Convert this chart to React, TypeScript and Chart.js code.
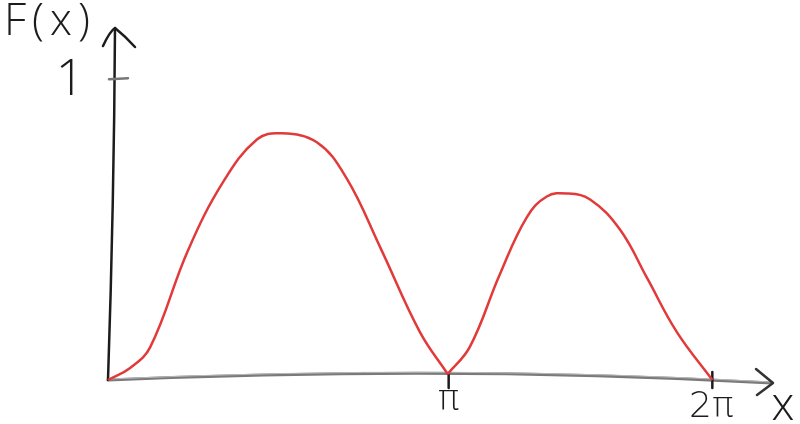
import React, { useEffect, useRef } from 'react';
import { Chart, registerables } from 'chart.js';

Chart.register(...registerables);

// curve (x in sketch units, the 2π tick sits at 6.28)
// first hump: origin -> π
const hump1X = [0, 0.23, 0.44, 0.83, 1.2, 1.55, 1.79, 2.17, 2.48, 2.83, 3.24, 3.53];
const hump1Y = [0, 0.04, 0.11, 0.43, 0.66, 0.8, 0.82, 0.79, 0.67, 0.44, 0.16, 0.02];
// second hump: π -> 2π
const hump2X = [3.53, 3.76, 4.07, 4.35, 4.56, 4.77, 5.01, 5.32, 5.6, 5.91, 6.28];
const hump2Y = [0.02, 0.11, 0.35, 0.54, 0.61, 0.62, 0.6, 0.5, 0.34, 0.16, 0];

const xTickValues = [3.54, 6.28];
const xTickLabels = ['π', '2π'];
const yTickValues = [1];
const yTickLabels = ['1'];

const xTitle = 'x';
const yTitle = 'F(x)';

const X_MAX = 6.9;
const Y_MAX = 1.17;

const INK = '#1c1c1c';
const RED = '#e23a3a';
const FONT = '"Open Sans", "DejaVu Sans", sans-serif';

const sketchAxes = {
  id: 'sketchAxes',
  beforeDatasetsDraw(chart: Chart) {
    const { ctx } = chart;
    const x = chart.scales.x;
    const y = chart.scales.y;
    const ox = x.getPixelForValue(0);
    const oy = y.getPixelForValue(0);
    const xEnd = x.getPixelForValue(X_MAX);
    const yTop = y.getPixelForValue(Y_MAX);
    ctx.save();
    ctx.lineCap = 'round';
    ctx.lineJoin = 'round';

    // x axis (slightly bowed, grey)
    const cx = x.getPixelForValue(3.6);
    const cy = y.getPixelForValue(0.05);
    ctx.strokeStyle = '#7a7a7a';
    ctx.lineWidth = 3;
    ctx.beginPath();
    ctx.moveTo(ox, oy);
    ctx.quadraticCurveTo(cx, cy, xEnd, oy + 3);
    ctx.stroke();
    ctx.strokeStyle = '#b8b8b8';
    ctx.lineWidth = 1;
    ctx.beginPath();
    ctx.moveTo(ox, oy - 1);
    ctx.quadraticCurveTo(cx, cy - 1, xEnd, oy + 2);
    ctx.stroke();

    // x arrow head
    ctx.strokeStyle = '#333';
    ctx.lineWidth = 2.5;
    ctx.beginPath();
    ctx.moveTo(xEnd - 16, oy - 11);
    ctx.lineTo(xEnd + 1, oy + 3);
    ctx.lineTo(xEnd - 15, oy + 15);
    ctx.stroke();

    // y axis (slight lean, black)
    const topX = ox + 7;
    ctx.strokeStyle = INK;
    ctx.lineWidth = 2.5;
    ctx.beginPath();
    ctx.moveTo(ox, oy);
    ctx.quadraticCurveTo(ox + 6, (oy + yTop) / 2, topX, yTop);
    ctx.stroke();
    ctx.beginPath();
    ctx.moveTo(topX - 12, yTop + 18);
    ctx.quadraticCurveTo(topX - 5, yTop + 3, topX, yTop);
    ctx.quadraticCurveTo(topX + 10, yTop + 8, topX + 20, yTop + 19);
    ctx.stroke();

    // y ticks
    ctx.strokeStyle = '#777';
    ctx.lineWidth = 2.5;
    yTickValues.forEach((v) => {
      const py = y.getPixelForValue(v);
      ctx.beginPath();
      ctx.moveTo(ox + 1, py);
      ctx.lineTo(ox + 20, py - 1);
      ctx.stroke();
    });

    // x ticks
    ctx.strokeStyle = INK;
    ctx.lineWidth = 2.5;
    xTickValues.forEach((v, i) => {
      const px = x.getPixelForValue(v);
      ctx.beginPath();
      ctx.moveTo(px, oy - (i === 0 ? 5 : 8));
      ctx.lineTo(px, oy + 8);
      ctx.stroke();
    });
    ctx.restore();
  },
  afterDraw(chart: Chart) {
    const { ctx } = chart;
    const x = chart.scales.x;
    const y = chart.scales.y;
    const ox = x.getPixelForValue(0);
    const oy = y.getPixelForValue(0);
    ctx.save();
    ctx.fillStyle = INK;
    ctx.textAlign = 'center';
    ctx.textBaseline = 'middle';

    ctx.font = `300 36px "DejaVu Sans", ${FONT}`;
    xTickValues.forEach((v, i) => {
      ctx.fillText(xTickLabels[i], x.getPixelForValue(v) - (i === 0 ? 0 : 1), oy + (i === 0 ? 21 : 28));
    });

    ctx.font = `300 50px ${FONT}`;
    yTickValues.forEach((v, i) => {
      ctx.fillText(yTickLabels[i], ox - 38, y.getPixelForValue(v) + 2);
    });

    ctx.font = `300 46px ${FONT}`;
    ctx.fillText(xTitle, x.getPixelForValue(X_MAX) + 11, oy + 27);

    ctx.textAlign = 'left';
    ctx.font = `300 44px ${FONT}`;
    (ctx as any).letterSpacing = '6px';
    ctx.fillText(yTitle, 4, 22);
    ctx.restore();
  },
};

const humpStyle = {
  borderColor: RED,
  borderWidth: 2.5,
  pointRadius: 0,
  tension: 0.4,
  clip: false,
};

const SketchChart: React.FC = () => {
  const canvasRef = useRef<HTMLCanvasElement | null>(null);

  useEffect(() => {
    if (!canvasRef.current) return;
    const chart = new Chart(canvasRef.current, {
      type: 'line',
      data: {
        datasets: [
          { label: 'F(x) 0–π', data: hump1X.map((v, i) => ({ x: v, y: hump1Y[i] })), ...humpStyle },
          { label: 'F(x) π–2π', data: hump2X.map((v, i) => ({ x: v, y: hump2Y[i] })), ...humpStyle },
        ],
      },
      options: {
        animation: false,
        responsive: true,
        maintainAspectRatio: false,
        layout: { padding: { left: 108, right: 28, top: 28, bottom: 44 } },
        plugins: {
          legend: { display: false },
          tooltip: { enabled: false },
        },
        scales: {
          x: { type: 'linear', min: 0, max: X_MAX, display: false },
          y: { type: 'linear', min: 0, max: Y_MAX, display: false },
        },
      },
      plugins: [sketchAxes],
    });

    return () => {
      chart.destroy();
    };
  }, []);

  return (
    <div style={{ position: 'fixed', left: 0, top: 0, width: 800, height: 424, background: '#fff' }}>
      <canvas ref={canvasRef} />
    </div>
  );
};

export default function App() {
  return <SketchChart />;
}
